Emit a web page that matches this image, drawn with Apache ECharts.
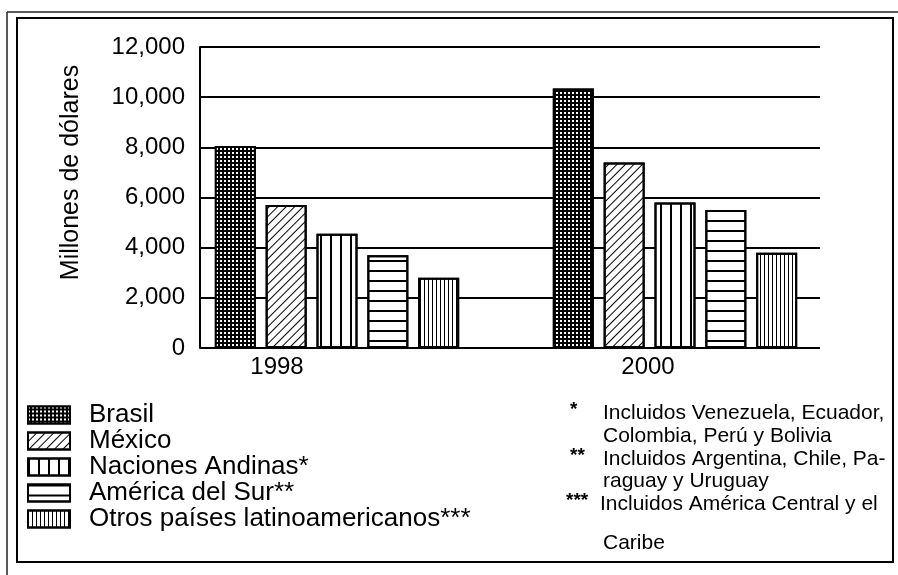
<!DOCTYPE html>
<html><head><meta charset="utf-8">
<script src="https://cdn.jsdelivr.net/npm/echarts@6/dist/echarts.min.js"></script>
<style>html,body{margin:0;padding:0;background:#fff}#c{width:898px;height:575px}</style>
</head><body><div id="c"></div>
<script>
// ---- data ----
const categories = ['1998', '2000'];
const seriesNames = ['Brasil', 'México', 'Naciones Andinas*', 'América del Sur**', 'Otros países latinoamericanos***'];
const brasil  = [8050, 10350];
const mexico  = [5700, 7400];
const andinas = [4550, 5800];
const sur     = [3700, 5500];
const otros   = [2800, 3800];
const yAxisTitle = 'Millones de dólares';
const yMin = 0, yMax = 12000, yStep = 2000;
const footMarks = ['*', '', '**', '', '***', ''];
const footLines = ['Incluidos Venezuela, Ecuador,', 'Colombia, Perú y Bolivia', 'Incluidos Argentina, Chile, Pa-', 'raguay y Uruguay', 'Incluidos América Central y el', 'Caribe'];

// ---- styles ----
const FONT = '"Liberation Sans", Arial, Helvetica, sans-serif';
const values = [brasil, mexico, andinas, sur, otros];
const fills = ['#000', '#fff', '#fff', '#fff', '#fff'];
const decals = [
  { symbol: 'rect', symbolSize: 1, color: '#fff', dashArrayX: [2, 2], dashArrayY: [2, 2] },
  { symbol: 'rect', symbolSize: 1, color: '#000', dashArrayX: [1, 0], dashArrayY: [1, 5], rotation: -Math.PI / 4 },
  { symbol: 'rect', symbolSize: 1, color: '#000', dashArrayX: [2, 8], dashArrayY: [1, 0] },
  { symbol: 'rect', symbolSize: 1, color: '#000', dashArrayX: [1, 0], dashArrayY: [2, 8] },
  { symbol: 'rect', symbolSize: 1, color: '#000', dashArrayX: [1, 3], dashArrayY: [1, 0] }
];
const footY = [413, 436, 459, 481, 504, 543];
const footMarkX = [570, 570, 570, 570, 566, 566];
const footTextX = [603, 603, 603, 603, 600, 603];

const graphics = [
  { type: 'rect', shape: { x: 17, y: 18, width: 876, height: 544 }, style: { fill: 'none', stroke: '#000', lineWidth: 2 }, z: 10 },
  { type: 'line', shape: { x1: 7, y1: 12, x2: 898, y2: 12 }, style: { stroke: '#222', lineWidth: 1.5 }, z: 10 },
  { type: 'line', shape: { x1: 7, y1: 12, x2: 7, y2: 575 }, style: { stroke: '#222', lineWidth: 1.5 }, z: 10 }
];
footLines.forEach((t, i) => {
  if (footMarks[i]) graphics.push({ type: 'text', x: footMarkX[i], y: footY[i] - 3, style: { text: footMarks[i], font: 'bold 19px ' + FONT, fill: '#000', verticalAlign: 'middle' }, z: 10 });
  graphics.push({ type: 'text', x: footTextX[i], y: footY[i], style: { text: t, font: '21px ' + FONT, fill: '#000', verticalAlign: 'middle' }, z: 10 });
});

const chart = echarts.init(document.getElementById('c'), null, { renderer: 'canvas' });
chart.setOption({
  backgroundColor: '#fff',
  animation: false,
  textStyle: { fontFamily: FONT, color: '#000' },
  grid: [
    { left: 200, right: 78, top: 47, bottom: 227 },
    { left: 168, right: 54, top: 47, bottom: 227 }
  ],
  xAxis: [
    { gridIndex: 0, type: 'category', data: categories, show: false },
    {
      gridIndex: 1, type: 'category', data: categories,
      axisLine: { show: false }, axisTick: { show: false },
      axisLabel: {
        margin: 7, fontSize: 24, color: '#000', fontFamily: FONT,
        formatter: (v, i) => (i === 0 ? '{a|' + v + '}' : '{b|' + v + '}'),
        rich: {
          a: { fontSize: 24, fontFamily: FONT, color: '#000', padding: [0, 120, 0, 0] },
          b: { fontSize: 24, fontFamily: FONT, color: '#000', padding: [0, 54, 0, 0] }
        }
      }
    }
  ],
  yAxis: [
    {
      gridIndex: 0, type: 'value', min: yMin, max: yMax, interval: yStep,
      name: yAxisTitle, nameLocation: 'middle', nameGap: 116,
      nameTextStyle: { fontSize: 25, fontFamily: FONT, color: '#000', padding: [0, 0, 0, 50] },
      axisLine: { show: true, lineStyle: { color: '#000', width: 2 } },
      axisTick: { show: false },
      axisLabel: { fontSize: 24, color: '#000', fontFamily: FONT, margin: 15,
        formatter: v => v.toLocaleString('en-US') },
      splitLine: { show: true, lineStyle: { color: '#000', width: 2 } }
    },
    { gridIndex: 1, type: 'value', min: yMin, max: yMax, interval: yStep, show: false, splitLine: { show: false } }
  ],
  legend: {
    orient: 'vertical', left: 22, top: 397, itemWidth: 42, itemHeight: 17, itemGap: 0,
    selectedMode: false, icon: 'rect',
    data: seriesNames,
    textStyle: { fontSize: 26, lineHeight: 25.5, color: '#000', fontFamily: FONT, padding: [0, 0, 0, 14] },
    itemStyle: { borderColor: '#000', borderWidth: 2 }
  },
  graphic: graphics,
  series: seriesNames.map((name, k) => ({
    name, type: 'bar', xAxisIndex: 1, yAxisIndex: 1,
    data: values[k], barWidth: 41, barGap: '24%',
    itemStyle: { color: fills[k], borderColor: '#000', borderWidth: 2, decal: decals[k] }
  }))
});
</script></body></html>
